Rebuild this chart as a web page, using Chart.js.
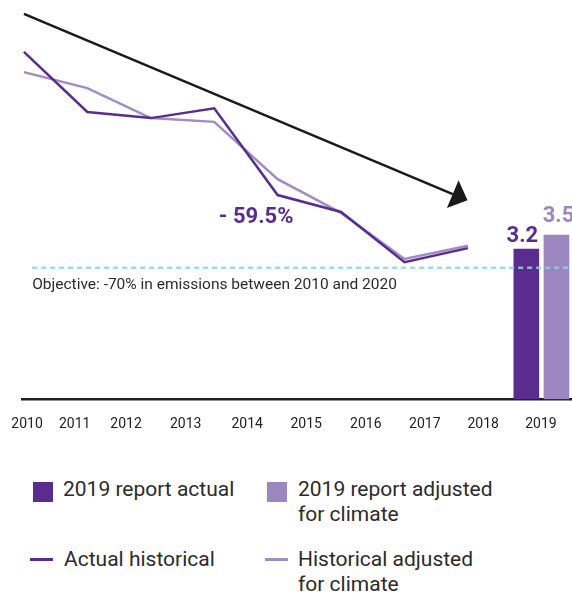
<!DOCTYPE html>
<html>
<head>
<meta charset="utf-8">
<script src="https://cdn.jsdelivr.net/npm/chart.js@4.4.1/dist/chart.umd.min.js"></script>
<style>
  html, body { margin: 0; padding: 0; background: #fff; }
  #wrap { position: relative; width: 572px; height: 594px; overflow: hidden; font-family: Roboto, sans-serif; }
  #chartBox { position: absolute; left: 0; top: 0; width: 572px; height: 458px; }
  .lg-text { position: absolute; font-size: 21px; line-height: 25px; color: #2b2b2b; white-space: pre-line; }
  .lg-mark { position: absolute; }
</style>
</head>
<body>
<div id="wrap">
  <div id="chartBox"><canvas id="emissions"></canvas></div>
  <div id="legend"></div>
</div>
<script>
// values
const pointSlots = [0, 1, 2, 3, 4, 5, 6, 7];
const actualHistorical = [7.40, 6.12, 5.99, 6.20, 4.35, 3.99, 2.92, 3.22];
const adjustedHistorical = [6.97, 6.63, 5.99, 5.91, 4.69, 3.97, 2.99, 3.27];

const barSlots = [7.92, 8.395];
const report2019 = [3.2, 3.5];

const objectiveValue = 2.8;
const objectiveSpan = [0.13, 8.64];

const trendX = [0, 6.76];
const trendY = [8.21, 4.37];

const yearLabels = ["2010", "2011", "2012", "2013", "2014", "2015", "2016", "2017", "2018", "2019"];
const yearTickAt = [0.05, 0.80, 1.61, 2.55, 3.52, 4.45, 5.39, 6.32, 7.24, 8.15];

const seriesNames = ["2019 report actual", "2019 report adjusted\nfor climate", "Actual historical", "Historical adjusted\nfor climate"];

const DARK = "#5b2c8f";
const LIGHT = "#9c86bf";
const LIGHT_LINE = "#a18cc6";

const toPoints = (xs, ys) => xs.map((x, i) => ({ x: x, y: ys[i] }));

// arrowhead + text annotations
const annotate = {
    id: "annotate",
    afterDatasetsDraw(chart) {
        const ctx = chart.ctx;
        const xs = chart.scales.x;
        const ys = chart.scales.y;

        // arrowhead at end of trend line
        const trend = chart.getDatasetMeta(3).data;
        const a = trend[0], b = trend[trend.length - 1];
        const ang = Math.atan2(b.y - a.y, b.x - a.x);
        const len = 16, half = 15;
        ctx.save();
        ctx.fillStyle = "#1a1a1a";
        ctx.beginPath();
        ctx.moveTo(b.x + Math.cos(ang) * len, b.y + Math.sin(ang) * len);
        ctx.lineTo(b.x - Math.sin(ang) * half, b.y + Math.cos(ang) * half);
        ctx.lineTo(b.x + Math.sin(ang) * half, b.y - Math.cos(ang) * half);
        ctx.closePath();
        ctx.fill();

        // -59.5%
        ctx.font = "bold 22px Roboto, sans-serif";
        ctx.fillStyle = DARK;
        ctx.textAlign = "center";
        ctx.textBaseline = "alphabetic";
        ctx.fillText("- 59.5%", xs.getPixelForValue(3.66), ys.getPixelForValue(3.9) + 7);

        // bar values
        ctx.font = "bold 22px Roboto, sans-serif";
        ctx.fillStyle = DARK;
        ctx.fillText("3.2", xs.getPixelForValue(barSlots[0]) - 4, ys.getPixelForValue(report2019[0]) - 7);
        ctx.fillStyle = LIGHT;
        ctx.fillText("3.5", xs.getPixelForValue(barSlots[1]) + 2, ys.getPixelForValue(report2019[1]) - 13);

        // objective caption
        ctx.font = "15.5px Roboto, sans-serif";
        ctx.fillStyle = "#2b2b2b";
        ctx.textAlign = "left";
        ctx.fillText("Objective: -70% in emissions between 2010 and 2020",
            xs.getPixelForValue(objectiveSpan[0]), ys.getPixelForValue(objectiveValue) + 21);
        ctx.restore();
    },
};

new Chart(document.getElementById("emissions"), {
    type: "line",
    data: {
        datasets: [
            {
                type: "line",
                label: "Objective",
                data: toPoints(objectiveSpan, [objectiveValue, objectiveValue]),
                borderColor: "rgba(146, 210, 218, 0.85)",
                borderWidth: 2.5,
                borderDash: [5, 4],
                pointRadius: 0,
                order: 0,
            },
            {
                type: "line",
                label: "Actual historical",
                data: toPoints(pointSlots, actualHistorical),
                borderColor: DARK,
                borderWidth: 2.5,
                pointRadius: 0,
                tension: 0,
                order: 1,
            },
            {
                type: "line",
                label: "Historical adjusted for climate",
                data: toPoints(pointSlots, adjustedHistorical),
                borderColor: LIGHT_LINE,
                borderWidth: 2.5,
                pointRadius: 0,
                tension: 0,
                order: 2,
            },
            {
                type: "line",
                label: "Trend",
                data: toPoints(trendX, trendY),
                borderColor: "#1a1a1a",
                borderWidth: 2.5,
                pointRadius: 0,
                order: 3,
            },
            {
                type: "bar",
                label: "2019 report actual",
                data: [{ x: barSlots[0], y: report2019[0] }],
                backgroundColor: DARK,
                barThickness: 25,
                grouped: false,
                order: 4,
            },
            {
                type: "bar",
                label: "2019 report adjusted for climate",
                data: [{ x: barSlots[1], y: report2019[1] }],
                backgroundColor: LIGHT,
                barThickness: 25,
                grouped: false,
                order: 4,
            },
        ],
    },
    options: {
        responsive: true,
        maintainAspectRatio: false,
        animation: false,
        layout: { padding: { left: 22, right: 0, top: 0, bottom: 8 } },
        scales: {
            x: {
                type: "linear",
                offset: false,
                min: -0.03,
                max: 8.64,
                afterBuildTicks: (scale) => {
                    scale.ticks = yearTickAt.map((v) => ({ value: v }));
                },
                afterFit: (scale) => {
                    // labels are allowed to hang past the plot edges
                    scale.paddingLeft = 0;
                    scale.paddingRight = 0;
                },
                grid: { display: false, drawTicks: false, offset: false },
                border: { display: true, color: "#231f20", width: 2.5 },
                ticks: {
                    color: "#222",
                    font: { family: "Roboto", size: 14 },
                    padding: 17,
                    autoSkip: false,
                    maxRotation: 0,
                    callback: (value, index) => yearLabels[index],
                },
            },
            y: {
                display: false,
                min: 0,
                max: 8.507,
            },
        },
        plugins: {
            legend: { display: false },
            tooltip: { enabled: false },
        },
    },
    plugins: [annotate],
});

// legend below the chart
const legendSpots = [
    { kind: "box", color: DARK, left: 33, top: 482, textLeft: 63, textTop: 477 },
    { kind: "box", color: LIGHT, left: 267, top: 482, textLeft: 298, textTop: 477 },
    { kind: "line", color: DARK, left: 30, top: 558, textLeft: 64, textTop: 547 },
    { kind: "line", color: LIGHT_LINE, left: 265, top: 558, textLeft: 298, textTop: 547 },
];
const legend = document.getElementById("legend");
legendSpots.forEach((s, i) => {
    const mark = document.createElement("div");
    mark.className = "lg-mark";
    mark.style.left = s.left + "px";
    mark.style.top = s.top + "px";
    mark.style.background = s.color;
    mark.style.width = (s.kind === "box" ? 20 : 23) + "px";
    mark.style.height = (s.kind === "box" ? 20 : 3) + "px";
    legend.appendChild(mark);

    const txt = document.createElement("div");
    txt.className = "lg-text";
    txt.style.left = s.textLeft + "px";
    txt.style.top = s.textTop + "px";
    txt.textContent = seriesNames[i];
    legend.appendChild(txt);
});
</script>
</body>
</html>
